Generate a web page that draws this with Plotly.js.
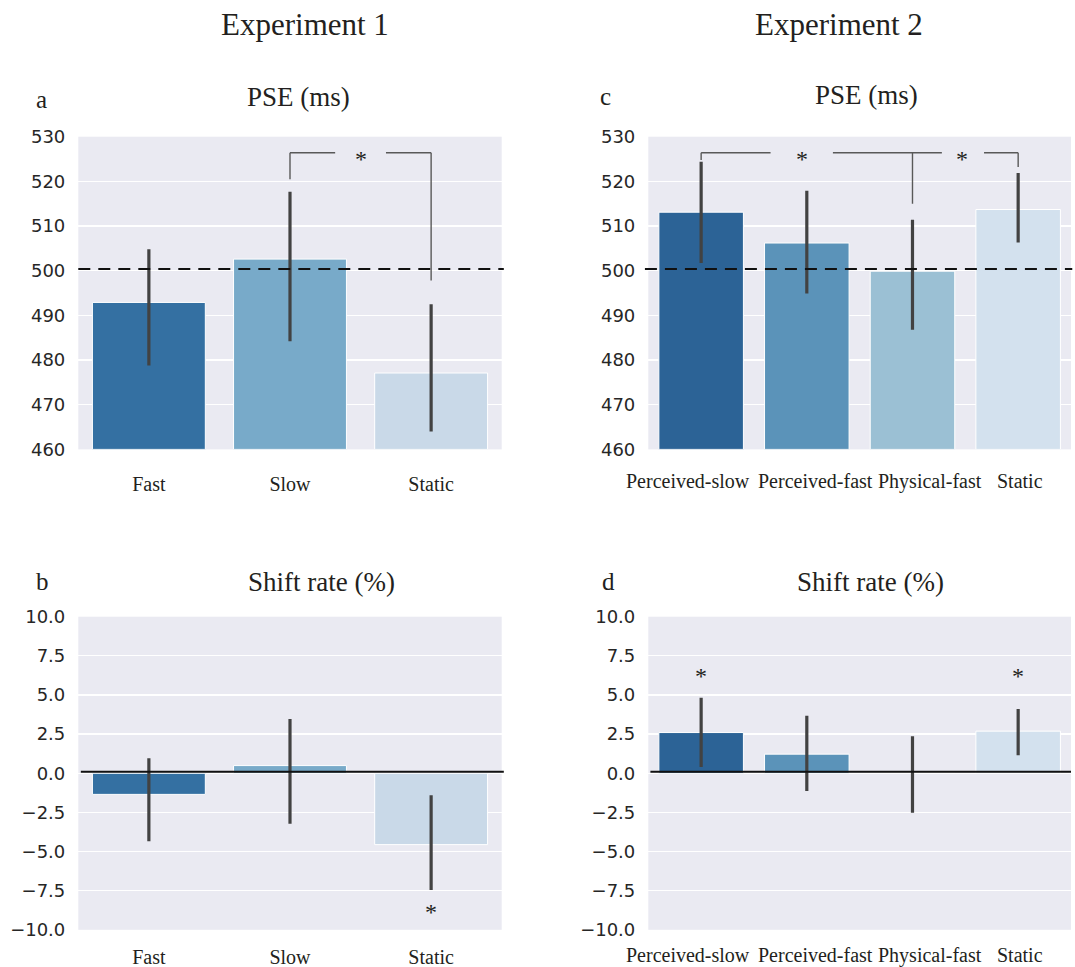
<!DOCTYPE html>
<html>
<head>
<meta charset="utf-8">
<script src="https://cdn.plot.ly/plotly-3.0.1.min.js"></script>
<style>html,body{margin:0;padding:0;background:#fff;}#chart{width:1075px;height:967px;}</style>
</head>
<body>
<div id="chart"></div>
<script>
// ---------------- DATA ----------------
const catsExp1 = ["Fast", "Slow", "Static"];
const catsExp2 = ["Perceived-slow", "Perceived-fast", "Physical-fast", "Static"];

// Panel a: PSE (ms), Experiment 1
const pseExp1 = [492.9, 502.6, 477.1];
const pseExp1Lo = [478.8, 484.2, 464.0];
const pseExp1Hi = [504.8, 517.7, 492.5];

// Panel c: PSE (ms), Experiment 2
const pseExp2 = [513.1, 506.2, 499.9, 513.7];
const pseExp2Lo = [501.7, 494.9, 486.8, 506.3];
const pseExp2Hi = [524.4, 517.9, 511.4, 521.9];

// Panel b: Shift rate (%), Experiment 1
const shiftExp1 = [-1.35, 0.49, -4.56];
const shiftExp1Lo = [-4.35, -3.22, -7.45];
const shiftExp1Hi = [0.96, 3.47, -1.41];

// Panel d: Shift rate (%), Experiment 2
const shiftExp2 = [2.60, 1.22, 0.0, 2.69];
const shiftExp2Lo = [0.40, -1.13, -2.52, 1.15];
const shiftExp2Hi = [4.82, 3.67, 2.37, 4.11];

const pseTicks = [460, 470, 480, 490, 500, 510, 520, 530];
const shiftTicks = [-10, -7.5, -5, -2.5, 0, 2.5, 5, 7.5, 10];
const pseReference = 500.4;
const shiftReference = 0.1;

// significance brackets (category index positions, data y)
const bracketA = {left: 1, right: 2, y: 526.4, leftEnd: 520.5, rightEnd: 497.8, gapL: 1.32, gapR: 1.68, star: 1.5};
const bracketC = {a: 0, b: 2, c: 3, y: 526.4, aEnd: 524.8, bEnd: 515.0, cEnd: 523.2,
                  gap1L: 0.657, gap1R: 1.247, star1: 0.95, gap2L: 2.278, gap2R: 2.677, star2: 2.47};
const starsB = [{x: 2, y: -8.5}];
const starsD = [{x: 0, y: 6.6}, {x: 3, y: 6.6}];

// ---------------- STYLE ----------------
const colorsExp1 = ["#3470a2", "#78aac9", "#c9d9e8"];
const colorsExp2 = ["#2c6396", "#5b93b9", "#9bc0d4", "#d3e1ee"];
const W = 1075, H = 967;
const px = v => v / W;
const py = v => 1 - v / H;
const serif = "Liberation Serif, Times New Roman, serif";
const sans = "DejaVu Sans, sans-serif";
const errColor = "#424242";
// Experiment 2 category labels are spread apart (pixel centres) as in the original figure
const exp2LabelCentersPx = [688, 815, 930, 1020];

function barTrace(cats, vals, lo, hi, colors, xa, ya, base) {
  return {
    type: "bar", x: cats, y: vals.map(v => v - base), base: base, xaxis: xa, yaxis: ya,
    marker: {color: colors, line: {color: "#ffffff", width: 1}},
    width: 0.8,
    error_y: {type: "data", symmetric: false,
              array: hi.map((h, i) => h - vals[i]),
              arrayminus: vals.map((v, i) => v - lo[i]),
              color: errColor, thickness: 3.2, width: 0},
    hoverinfo: "skip", showlegend: false
  };
}
const tA = barTrace(catsExp1, pseExp1, pseExp1Lo, pseExp1Hi, colorsExp1, "x", "y", 460);
const tC = barTrace(catsExp2, pseExp2, pseExp2Lo, pseExp2Hi, colorsExp2, "x2", "y2", 460);
const tB = barTrace(catsExp1, shiftExp1, shiftExp1Lo, shiftExp1Hi, colorsExp1, "x3", "y3", 0);
const tD = barTrace(catsExp2, shiftExp2, shiftExp2Lo, shiftExp2Hi, colorsExp2, "x4", "y4", 0);

const dom = {
  a: {x: [px(78.3), px(501.7)], y: [py(449.4), py(136.7)]},
  c: {x: [px(648.3), px(1071)], y: [py(449.4), py(136.7)]},
  b: {x: [px(78.3), px(501.7)], y: [py(929.8), py(616.7)]},
  d: {x: [px(648.3), px(1071)], y: [py(929.8), py(616.7)]}
};

function xAxis(d, anchor, cats, standoff, showLabels) {
  return {domain: d, anchor: anchor, type: "category", categoryarray: cats,
          range: [-0.5, cats.length - 0.5], showgrid: false, zeroline: false,
          showline: false, ticks: "", ticklabelstandoff: standoff, tickangle: 0,
          showticklabels: showLabels,
          tickfont: {family: serif, size: 20, color: "#231f20"}, fixedrange: true};
}
function yAxis(d, anchor, range, ticks, fmt) {
  return {domain: d, anchor: anchor, range: range, tickvals: ticks, tickformat: fmt,
          showgrid: true, gridcolor: "#ffffff", gridwidth: 1.3, zeroline: false,
          showline: false, ticks: "", ticklabelstandoff: 12,
          tickfont: {family: sans, size: 18, color: "#262626"}, fixedrange: true};
}

const shapes = [];
function seg(xr, yr, x0, y0, x1, y1, color, width) {
  shapes.push({type: "line", xref: xr, yref: yr, x0: x0, y0: y0, x1: x1, y1: y1,
               line: {color: color, width: width}, layer: "above"});
}
// reference lines
shapes.push({type: "line", xref: "x domain", yref: "y", x0: 0, x1: 1.005, y0: pseReference, y1: pseReference,
             line: {color: "#111111", width: 2, dash: "12px,8px"}, layer: "above"});
shapes.push({type: "line", xref: "x2 domain", yref: "y2", x0: -0.008, x1: 1.003, y0: pseReference, y1: pseReference,
             line: {color: "#111111", width: 2, dash: "12px,8px"}, layer: "above"});
shapes.push({type: "line", xref: "x3 domain", yref: "y3", x0: 0.006, x1: 1.005, y0: shiftReference, y1: shiftReference,
             line: {color: "#111111", width: 2}, layer: "above"});
shapes.push({type: "line", xref: "x4 domain", yref: "y4", x0: 0.005, x1: 1.0, y0: shiftReference, y1: shiftReference,
             line: {color: "#111111", width: 2}, layer: "above"});

// bracket a
const bc = "#595959", bw = 1.4;
seg("x", "y", bracketA.left, bracketA.leftEnd, bracketA.left, bracketA.y, bc, bw);
seg("x", "y", bracketA.left, bracketA.y, bracketA.gapL, bracketA.y, bc, bw);
seg("x", "y", bracketA.gapR, bracketA.y, bracketA.right, bracketA.y, bc, bw);
seg("x", "y", bracketA.right, bracketA.y, bracketA.right, bracketA.rightEnd, bc, bw);
// bracket c
seg("x2", "y2", bracketC.a, bracketC.aEnd, bracketC.a, bracketC.y, bc, bw);
seg("x2", "y2", bracketC.a, bracketC.y, bracketC.gap1L, bracketC.y, bc, bw);
seg("x2", "y2", bracketC.gap1R, bracketC.y, bracketC.gap2L, bracketC.y, bc, bw);
seg("x2", "y2", bracketC.b, bracketC.y, bracketC.b, bracketC.bEnd, bc, bw);
seg("x2", "y2", bracketC.gap2R, bracketC.y, bracketC.c, bracketC.y, bc, bw);
seg("x2", "y2", bracketC.c, bracketC.y, bracketC.c, bracketC.cEnd, bc, bw);

const annotations = [];
function paperText(text, x, y, size) {
  annotations.push({text: text, xref: "paper", yref: "paper", x: px(x), y: py(y),
                    xanchor: "center", yanchor: "middle", showarrow: false,
                    font: {family: serif, size: size, color: "#231f20"}});
}
function star(xr, yr, x, y) {
  annotations.push({text: "*", xref: xr, yref: yr, x: x, y: y, xanchor: "center", yanchor: "middle",
                    yshift: -6, showarrow: false, font: {family: serif, size: 24, color: "#231f20"}});
}
paperText("Experiment 1", 304.5, 24, 31);
paperText("Experiment 2", 839, 24, 31);
paperText("PSE (ms)", 298, 97, 27);
paperText("PSE (ms)", 866, 95, 27);
paperText("Shift rate (%)", 321, 582, 27);
paperText("Shift rate (%)", 870, 582, 27);
paperText("a", 41, 99, 25);
paperText("c", 605, 96, 25);
paperText("b", 42, 581, 25);
paperText("d", 608, 581, 25);
catsExp2.forEach((c, i) => {
  paperText(c, exp2LabelCentersPx[i], 481, 20);
  paperText(c, exp2LabelCentersPx[i], 955, 20);
});
star("x", "y", bracketA.star, bracketA.y);
star("x2", "y2", bracketC.star1, bracketC.y);
star("x2", "y2", bracketC.star2, bracketC.y);
starsB.forEach(s => star("x3", "y3", s.x, s.y));
starsD.forEach(s => star("x4", "y4", s.x, s.y));

const layout = {
  width: W, height: H, margin: {l: 0, r: 0, t: 0, b: 0},
  paper_bgcolor: "#ffffff", plot_bgcolor: "#eaeaf2", showlegend: false, bargap: 0.2,
  xaxis: xAxis(dom.a.x, "y", catsExp1, 21, true),
  yaxis: yAxis(dom.a.y, "x", [460, 530], pseTicks, "d"),
  xaxis2: xAxis(dom.c.x, "y2", catsExp2, 19, false),
  yaxis2: yAxis(dom.c.y, "x2", [460, 530], pseTicks, "d"),
  xaxis3: xAxis(dom.b.x, "y3", catsExp1, 13, true),
  yaxis3: yAxis(dom.b.y, "x3", [-10, 10], shiftTicks, ".1f"),
  xaxis4: xAxis(dom.d.x, "y4", catsExp2, 11, false),
  yaxis4: yAxis(dom.d.y, "x4", [-10, 10], shiftTicks, ".1f"),
  shapes: shapes, annotations: annotations
};

Plotly.newPlot("chart", [tA, tC, tB, tD], layout, {displayModeBar: false, staticPlot: true});
</script>
</body>
</html>
